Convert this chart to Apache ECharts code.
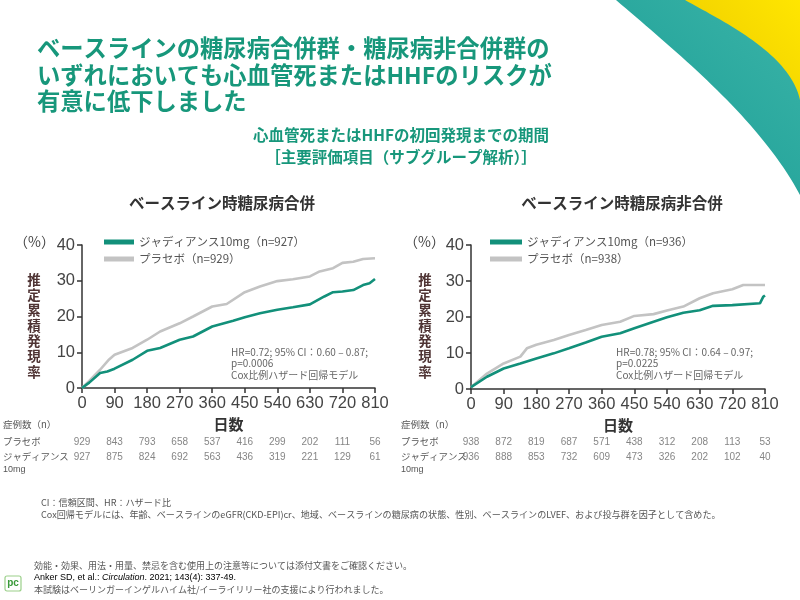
<!DOCTYPE html>
<html><head><meta charset="utf-8">
<script src="https://cdn.jsdelivr.net/npm/echarts@6/dist/echarts.min.js"></script>
<style>html,body{margin:0;padding:0;background:#fff}#c{width:800px;height:600px}</style>
</head><body><div id="c"></div>
<script>
// ---- data ----
const dayTicks = [0, 90, 180, 270, 360, 450, 540, 630, 720, 810];

const leftJarDays = [0, 20, 50, 70, 90, 140, 180, 216, 270, 307, 360, 418, 450, 492, 540, 583, 630, 670, 694, 720, 750, 777, 795, 810];
const leftJarVals = [0, 1.5, 4.2, 4.6, 5.4, 7.9, 10.4, 11.2, 13.5, 14.4, 17.2, 18.8, 19.8, 20.9, 21.9, 22.6, 23.4, 25.6, 26.8, 27.0, 27.4, 28.8, 29.3, 30.5];
const leftPlaDays = [0, 20, 50, 75, 90, 140, 180, 216, 270, 307, 360, 400, 450, 492, 540, 583, 630, 657, 694, 720, 750, 777, 810];
const leftPlaVals = [0, 2.0, 5.1, 8.0, 9.3, 11.2, 13.5, 15.8, 18.1, 20.0, 22.8, 23.5, 26.8, 28.4, 29.9, 30.4, 31.2, 32.6, 33.5, 35.0, 35.3, 36.1, 36.3];

const rightJarDays = [0, 44, 90, 136, 180, 228, 270, 316, 360, 411, 450, 503, 540, 585, 630, 667, 720, 796, 805, 810];
const rightJarVals = [0.5, 3.4, 5.7, 7.1, 8.5, 9.9, 11.3, 12.9, 14.5, 15.5, 16.9, 18.7, 19.9, 21.2, 21.9, 23.1, 23.3, 23.8, 25.6, 26.0];
const rightPlaDays = [0, 44, 90, 136, 154, 180, 228, 270, 316, 360, 411, 450, 503, 540, 585, 630, 667, 720, 750, 810];
const rightPlaVals = [0.5, 4.3, 7.1, 9.0, 11.3, 12.3, 13.6, 15.0, 16.4, 17.8, 18.7, 20.3, 20.8, 21.8, 22.9, 25.2, 26.6, 27.7, 28.9, 28.9];

const leftRiskPla = [929, 843, 793, 658, 537, 416, 299, 202, 111, 56];
const leftRiskJar = [927, 875, 824, 692, 563, 436, 319, 221, 129, 61];
const rightRiskPla = [938, 872, 819, 687, 571, 438, 312, 208, 113, 53];
const rightRiskJar = [936, 888, 853, 732, 609, 473, 326, 202, 102, 40];

const leftNames = ['ジャディアンス10mg（n=927）', 'プラセボ（n=929）'];
const rightNames = ['ジャディアンス10mg（n=936）', 'プラセボ（n=938）'];
const riskRows = ['プラセボ', 'ジャディアンス'];

// ---- styles ----
const GREEN = '#12907a';
const GRAY = '#c3c3c3';
const TITLE_GREEN = '#17977b';
const CJK = '"Noto Sans CJK JP", "Noto Sans", sans-serif';
const NUM = '"Liberation Sans", Arial, sans-serif';

function pairs(d, v) { return d.map((x, i) => [x, v[i]]); }
function riskData(pla, jar) {
  const out = [];
  dayTicks.forEach((d, i) => { out.push([d, 0, pla[i]]); out.push([d, 1, jar[i]]); });
  return out;
}
// decoration helper: cubic bezier outline closed to top-right corner
function swoosh(p0, p1, p2, p3) {
  const pts = [];
  for (let i = 0; i <= 40; i++) {
    const t = i / 40, u = 1 - t;
    pts.push([u*u*u*p0[0] + 3*u*u*t*p1[0] + 3*u*t*t*p2[0] + t*t*t*p3[0],
              u*u*u*p0[1] + 3*u*u*t*p1[1] + 3*u*t*t*p2[1] + t*t*t*p3[1]]);
  }
  pts.push([800, 0]);
  return pts;
}
const lg = (stops) => ({ type: 'linear', x: 0, y: 1, x2: 1, y2: 0, colorStops: stops });

const chart = echarts.init(document.getElementById('c'), null, { renderer: 'canvas' });

const xAxisBase = (gi) => ({
  gridIndex: gi, type: 'value', min: 0, max: 810, interval: 90,
  axisLine: { show: true, lineStyle: { color: '#333', width: 1.5 } },
  axisTick: { show: true, length: 5, lineStyle: { color: '#333', width: 1.5 } },
  axisLabel: { fontSize: 16.5, color: '#444', fontFamily: NUM, margin: 7 },
  splitLine: { show: false },
  name: '日数', nameLocation: 'middle', nameGap: 29,
  nameTextStyle: { fontSize: 15, fontWeight: 'bold', color: '#333', fontFamily: CJK }
});
const yAxisBase = (gi) => ({
  gridIndex: gi, type: 'value', min: 0, max: 40, interval: 10,
  axisLine: { show: true, lineStyle: { color: '#333', width: 1.5 } },
  axisTick: { show: true, length: 5, lineStyle: { color: '#333', width: 1.5 } },
  axisLabel: { fontSize: 16.5, color: '#444', fontFamily: NUM, margin: 7 },
  splitLine: { show: false }
});
const riskX = (gi) => ({ gridIndex: gi, type: 'value', min: 0, max: 810, interval: 90, show: false });
const riskY = (gi) => ({ gridIndex: gi, type: 'category', data: riskRows, inverse: true, show: false });

const lineSeries = (name, xi, data, color) => ({
  name, type: 'line', xAxisIndex: xi, yAxisIndex: xi, data, symbol: 'none',
  lineStyle: { color, width: 2.6 }, itemStyle: { color }, z: color === GREEN ? 3 : 2
});
const riskSeries = (xi, data) => ({
  type: 'scatter', xAxisIndex: xi, yAxisIndex: xi, data, symbolSize: 0,
  label: { show: true, position: 'inside', formatter: p => String(p.value[2]), fontSize: 10, color: '#666', fontFamily: NUM },
  silent: true
});

const txt = (x, y, text, style) => ({ type: 'text', x: x, y: y, style: Object.assign({ text, font: '11px ' + CJK, fill: '#555' }, style) });

const graphics = [
  { type: 'polygon', shape: { points: swoosh([616, 0], [680, 55], [760, 120], [800, 195]) },
    style: { fill: lg([{ offset: 0, color: '#138a84' }, { offset: 0.5, color: '#2aa89e' }, { offset: 1, color: '#3bb4a8' }]) } },
  { type: 'polygon', shape: { points: swoosh([685, 0], [730, 25], [790, 55], [800, 100]) },
    style: { fill: lg([{ offset: 0, color: '#e0bd00' }, { offset: 0.4, color: '#f3d400' }, { offset: 1, color: '#ffe600' }]) } },
  txt(37, 35, 'ベースラインの糖尿病合併群・糖尿病非合併群の\nいずれにおいても心血管死またはHHFのリスクが\n有意に低下しました', { font: 'bold 23.3px ' + CJK, fill: TITLE_GREEN, lineHeight: 26.5 }),
  txt(401, 124, '心血管死またはHHFの初回発現までの期間\n［主要評価項目（サブグループ解析）］', { font: 'bold 15.5px ' + CJK, fill: TITLE_GREEN, lineHeight: 22, align: 'center' }),
  txt(222, 203, 'ベースライン時糖尿病合併', { font: 'bold 15.5px ' + CJK, fill: '#333', align: 'center', verticalAlign: 'middle' }),
  txt(622, 203, 'ベースライン時糖尿病非合併', { font: 'bold 15.5px ' + CJK, fill: '#333', align: 'center', verticalAlign: 'middle' }),
  txt(14, 235, '（%）', { font: '14px ' + CJK, fill: '#444' }),
  txt(404, 235, '（%）', { font: '14px ' + CJK, fill: '#444' }),
  txt(34, 272, '推\n定\n累\n積\n発\n現\n率', { font: 'bold 13.5px ' + CJK, fill: '#4f3434', lineHeight: 15.3, align: 'center' }),
  txt(425, 272, '推\n定\n累\n積\n発\n現\n率', { font: 'bold 13.5px ' + CJK, fill: '#4f3434', lineHeight: 15.3, align: 'center' }),
  txt(231, 346, 'HR=0.72; 95% CI：0.60 – 0.87;\np=0.0006\nCox比例ハザード回帰モデル', { font: '10px ' + CJK, fill: '#666', lineHeight: 11.8 }),
  txt(616, 346, 'HR=0.78; 95% CI：0.64 – 0.97;\np=0.0225\nCox比例ハザード回帰モデル', { font: '10px ' + CJK, fill: '#666', lineHeight: 11.8 }),
  txt(3, 420, '症例数（n）', { font: '9.5px ' + CJK, fill: '#555' }),
  txt(3, 437, 'プラセボ', { font: '9.4px ' + CJK, fill: '#555' }),
  txt(3, 452, 'ジャディアンス', { font: '9.4px ' + CJK, fill: '#555' }),
  txt(3, 465, '10mg', { font: '9px ' + NUM, fill: '#555' }),
  txt(401, 420, '症例数（n）', { font: '9.5px ' + CJK, fill: '#555' }),
  txt(401, 437, 'プラセボ', { font: '9.4px ' + CJK, fill: '#555' }),
  txt(401, 452, 'ジャディアンス', { font: '9.4px ' + CJK, fill: '#555' }),
  txt(401, 465, '10mg', { font: '9px ' + NUM, fill: '#555' }),
  txt(41, 497, 'CI：信頼区間、HR：ハザード比\nCox回帰モデルには、年齢、ベースラインのeGFR(CKD-EPI)cr、地域、ベースラインの糖尿病の状態、性別、ベースラインのLVEF、および投与群を因子として含めた。', { font: '9.1px ' + CJK, fill: '#555', lineHeight: 12 }),
  txt(34, 561, '効能・効果、用法・用量、禁忌を含む使用上の注意等については添付文書をご確認ください。', { font: '9px ' + CJK, fill: '#555' }),
  { type: 'text', x: 34, y: 573, style: { rich: { a: { fontSize: 9, fontFamily: NUM, color: '#555' }, i: { fontSize: 9, fontStyle: 'italic', fontFamily: NUM, color: '#555' } }, text: '{a|Anker SD, et al.: }{i|Circulation}{a|. 2021; 143(4): 337-49.}' } },
  txt(34, 585, '本試験はベーリンガーインゲルハイム社/イーライリリー社の支援により行われました。', { font: '9px ' + CJK, fill: '#555' }),
  { type: 'rect', shape: { x: 5, y: 576, width: 16, height: 15, r: 2 }, style: { fill: '#fff', stroke: '#9bd08a', lineWidth: 1.2 } },
  txt(13, 583.5, 'pc', { font: 'bold 10px ' + NUM, fill: '#3a9a3a', align: 'center', verticalAlign: 'middle' })
];

const option = {
  animation: false,
  backgroundColor: '#fff',
  textStyle: { fontFamily: CJK },
  grid: [
    { left: 82, top: 245, width: 293, height: 143 },
    { left: 471, top: 245, width: 294, height: 144 },
    { left: 82, top: 435, width: 293, height: 30 },
    { left: 471, top: 435, width: 294, height: 30 }
  ],
  xAxis: [xAxisBase(0), xAxisBase(1), riskX(2), riskX(3)],
  yAxis: [yAxisBase(0), yAxisBase(1), riskY(2), riskY(3)],
  legend: [
    { data: leftNames, left: 99, top: 230, orient: 'vertical', icon: 'rect', itemWidth: 30, itemHeight: 5, itemGap: 3,
      textStyle: { fontSize: 11.5, color: '#555', fontFamily: CJK, lineHeight: 14 }, selectedMode: false },
    { data: rightNames, left: 485, top: 230, orient: 'vertical', icon: 'rect', itemWidth: 32, itemHeight: 5, itemGap: 3,
      textStyle: { fontSize: 11.5, color: '#555', fontFamily: CJK, lineHeight: 14 }, selectedMode: false }
  ],
  series: [
    lineSeries(leftNames[1], 0, pairs(leftPlaDays, leftPlaVals), GRAY),
    lineSeries(leftNames[0], 0, pairs(leftJarDays, leftJarVals), GREEN),
    lineSeries(rightNames[1], 1, pairs(rightPlaDays, rightPlaVals), GRAY),
    lineSeries(rightNames[0], 1, pairs(rightJarDays, rightJarVals), GREEN),
    riskSeries(2, riskData(leftRiskPla, leftRiskJar)),
    riskSeries(3, riskData(rightRiskPla, rightRiskJar))
  ],
  graphic: graphics
};
chart.setOption(option);
</script>
</body></html>
